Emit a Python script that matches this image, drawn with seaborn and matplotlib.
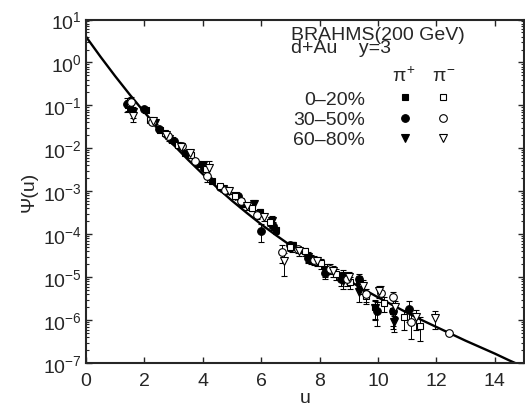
import numpy as np
import pandas as pd
import seaborn as sns
import matplotlib.pyplot as plt
from matplotlib.lines import Line2D
from matplotlib.ticker import LogLocator, MultipleLocator, NullFormatter

# scaling curve (log10 of Psi)
curve_u = [0, 0.5, 1, 1.5, 2, 2.5, 3, 3.5, 4, 4.5, 5, 5.5, 6, 6.5, 7, 7.5, 8,
           8.5, 9, 9.5, 10, 10.5, 11, 11.5, 12, 12.5, 13, 13.5, 14, 14.5, 15]
curve_log = [0.60, 0.13, -0.32, -0.75, -1.16, -1.55, -1.92, -2.27, -2.60, -2.92,
             -3.22, -3.50, -3.77, -4.02, -4.26, -4.48, -4.69, -4.89, -5.08, -5.28,
             -5.47, -5.65, -5.83, -6.00, -6.16, -6.32, -6.48, -6.63, -6.78, -6.94, -7.09]

# BRAHMS d+Au y=3 points: u, log10(Psi), relative error
pip_0_20_u = [1.45, 2.05, 2.55, 2.95, 3.4, 3.85, 4.3, 4.8, 5.35, 5.95, 6.5, 7.1, 7.7, 8.25, 8.8, 9.35, 9.9, 10.5]
pip_0_20_log = [-0.98, -1.10, -1.57, -1.80, -2.10, -2.36, -2.75, -2.98, -3.30, -3.49, -3.90, -4.27, -4.58, -4.80, -4.95, -5.10, -5.70, -5.80]
pip_0_20_err = [0.3, 0.05, 0.08, 0.08, 0.1, 0.1, 0.1, 0.12, 0.15, 0.2, 0.2, 0.2, 0.25, 0.25, 0.3, 0.35, 0.5, 0.55]

pim_0_20_u = [1.5, 2.2, 2.7, 3.15, 3.6, 4.1, 4.6, 5.1, 5.7, 6.3, 7.0, 7.5, 8.05, 8.55, 9.05, 9.6, 10.2, 10.9, 11.45]
pim_0_20_log = [-0.95, -1.35, -1.65, -1.92, -2.15, -2.48, -2.88, -3.10, -3.40, -3.72, -4.30, -4.40, -4.68, -4.92, -5.12, -5.45, -5.60, -5.93, -6.13]
pim_0_20_err = [0.3, 0.05, 0.06, 0.08, 0.1, 0.12, 0.12, 0.12, 0.15, 0.18, 0.2, 0.22, 0.25, 0.28, 0.3, 0.35, 0.4, 0.5, 0.55]

pip_30_50_u = [1.42, 1.97, 2.5, 3.0, 3.5, 4.05, 4.6, 5.2, 5.98, 6.4, 7.0, 7.6, 8.2, 8.75, 9.35, 9.95, 10.5, 11.05]
pip_30_50_log = [-0.96, -1.08, -1.55, -1.82, -2.12, -2.45, -2.90, -3.12, -3.92, -3.80, -4.25, -4.55, -4.90, -5.05, -5.05, -5.78, -5.80, -5.74]
pip_30_50_err = [0.35, 0.06, 0.08, 0.08, 0.1, 0.12, 0.12, 0.12, 0.45, 0.2, 0.2, 0.25, 0.3, 0.3, 0.35, 0.55, 0.6, 0.5]

pim_30_50_u = [1.55, 2.25, 2.8, 3.3, 3.75, 4.15, 4.75, 5.3, 5.85, 6.72, 7.25, 7.8, 8.35, 8.95, 9.6, 10.1, 10.5, 11.13, 12.42]
pim_30_50_log = [-0.92, -1.38, -1.72, -1.95, -2.30, -2.64, -2.96, -3.22, -3.55, -4.42, -4.35, -4.60, -4.80, -5.05, -5.40, -5.36, -5.47, -6.05, -6.31]
pim_30_50_err = [0.3, 0.05, 0.07, 0.08, 0.1, 0.3, 0.12, 0.15, 0.18, 0.45, 0.2, 0.22, 0.25, 0.3, 0.35, 0.4, 0.3, 0.6, 0.1]

pip_60_80_u = [1.6, 2.35, 2.85, 3.5, 4.0, 4.7, 5.1, 5.75, 6.38, 7.05, 7.6, 8.2, 8.8, 9.36, 9.9, 10.56]
pip_60_80_log = [-1.15, -1.40, -1.78, -2.13, -2.40, -2.95, -3.10, -3.30, -3.69, -4.28, -4.52, -4.85, -5.10, -5.35, -5.72, -6.05]
pip_60_80_err = [0.3, 0.08, 0.1, 0.15, 0.15, 0.15, 0.15, 0.25, 0.3, 0.25, 0.25, 0.3, 0.35, 0.4, 0.45, 0.4]

pim_60_80_u = [1.62, 2.3, 2.75, 3.25, 3.55, 4.2, 4.9, 5.5, 6.1, 6.78, 7.3, 7.9, 8.45, 9.0, 9.5, 10.05, 10.6, 11.3, 11.94]
pim_60_80_log = [-1.24, -1.37, -1.70, -1.97, -2.10, -2.45, -3.00, -3.35, -3.60, -4.62, -4.40, -4.62, -4.85, -5.00, -5.20, -5.32, -5.70, -5.93, -5.94]
pim_60_80_err = [0.3, 0.06, 0.08, 0.1, 0.15, 0.4, 0.15, 0.18, 0.2, 0.55, 0.22, 0.25, 0.28, 0.3, 0.35, 0.3, 0.4, 0.5, 0.45]

centralities = ["0\u201320%", "30\u201350%", "60\u201380%"]

series = [
    (pip_0_20_u, pip_0_20_log, pip_0_20_err, "s", True),
    (pip_30_50_u, pip_30_50_log, pip_30_50_err, "o", True),
    (pip_60_80_u, pip_60_80_log, pip_60_80_err, "v", True),
    (pim_0_20_u, pim_0_20_log, pim_0_20_err, "s", False),
    (pim_30_50_u, pim_30_50_log, pim_30_50_err, "o", False),
    (pim_60_80_u, pim_60_80_log, pim_60_80_err, "v", False),
]

sns.set_style("ticks")
plt.rcParams['font.family'] = ['Liberation Sans', 'DejaVu Sans']
plt.rcParams['mathtext.fontset'] = 'custom'
plt.rcParams['mathtext.rm'] = 'Liberation Sans'
plt.rcParams['mathtext.it'] = 'Liberation Sans'

fs = 14
fig = plt.figure(figsize=(5.25, 4.06), dpi=100)
ax = fig.add_axes([0.1638, 0.1034, 0.8342, 0.8461])

curve = pd.DataFrame({"u": curve_u, "psi": 10 ** np.array(curve_log)})
sns.lineplot(data=curve, x="u", y="psi", ax=ax, color="black", lw=1.7, zorder=2)

handles = []
for u, lg, rel, mk, filled in series:
    psi = 10 ** np.array(lg)
    err = psi * np.array(rel)
    ms = 5.0 if mk == "s" else 5.5
    ax.errorbar(u, psi, yerr=err, fmt=mk, ms=ms, mfc="black" if filled else "white",
                mec="black", mew=0.8, ecolor="black", elinewidth=0.7, capsize=2.2,
                capthick=0.7, zorder=3)
    handles.append(Line2D([], [], ls="none", marker=mk, ms=ms,
                          mfc="black" if filled else "white", mec="black", mew=0.8))

ax.set_yscale("log")
ax.set_xlim(0, 15)
ax.set_ylim(1e-7, 1e1)
ax.xaxis.set_major_locator(MultipleLocator(2))
ax.yaxis.set_major_locator(LogLocator(base=10, numticks=20))
ax.yaxis.set_minor_locator(LogLocator(base=10, subs=np.arange(2, 10), numticks=20))
ax.yaxis.set_minor_formatter(NullFormatter())
ax.tick_params(which="both", direction="in", top=True, right=True, labelsize=fs)
ax.tick_params(which="major", length=4.5, width=1, pad=3)
ax.tick_params(axis="x", which="major", pad=6.5)
ax.tick_params(which="minor", length=2.5, width=0.8)
for sp in ax.spines.values():
    sp.set_linewidth(1.5)

ax.set_xlabel("u", fontsize=fs, labelpad=0)
ax.set_ylabel("\u03a8(u)", fontsize=fs, labelpad=4)

# legend block
ax.text(0.467, 0.904, "BRAHMS(200 GeV)\nd+Au    y=3", transform=ax.transAxes,
        fontsize=fs, va="baseline", linespacing=0.72)
ax.text(0.726, 0.822, "$\\pi^{+}$", transform=ax.transAxes, fontsize=fs, va="baseline", ha="center")
ax.text(0.816, 0.822, "$\\pi^{-}$", transform=ax.transAxes, fontsize=fs, va="baseline", ha="center")
for lab, yy in zip(centralities, [0.768, 0.710, 0.652]):
    ax.text(0.637, yy, lab, transform=ax.transAxes, fontsize=fs, va="center", ha="right")

ax.legend(handles=handles, labels=[""] * 6, ncol=2, loc="center",
          bbox_to_anchor=(0.772, 0.710), frameon=False, handlelength=1.0,
          handletextpad=0.0, columnspacing=1.28, labelspacing=0.32, fontsize=12,
          borderpad=0)

fig.savefig("out.png", dpi=100)
plt.close('all')
